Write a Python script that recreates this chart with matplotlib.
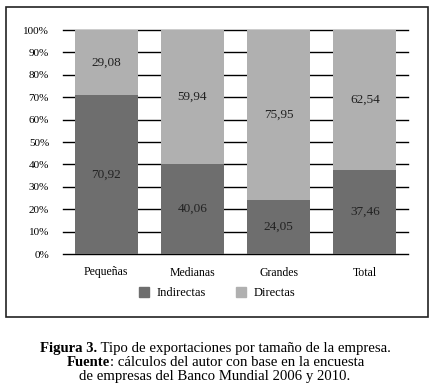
import numpy as np
import matplotlib.pyplot as plt
from matplotlib.patches import Rectangle, Patch

plt.rcParams['font.family'] = ['Liberation Serif', 'DejaVu Serif']

# data
categorias = ['Pequeñas', 'Medianas', 'Grandes', 'Total']
indirectas = [70.92, 40.06, 24.05, 37.46]
directas = [29.08, 59.94, 75.95, 62.54]

c_ind = '#6e6e6e'
c_dir = '#b0b0b0'

W, H = 434, 388
fig = plt.figure(figsize=(W / 100, H / 100), dpi=100)

# outer frame around chart
fig.patches.append(Rectangle((6 / W, 1 - 317 / H), 422 / W, 310 / H,
                             transform=fig.transFigure, fill=False,
                             edgecolor='#222222', linewidth=1.2))

ax = fig.add_axes([63 / W, 1 - 254 / H, 345 / W, 224 / H])
x = np.arange(len(categorias))
ax.bar(x, indirectas, width=0.73, color=c_ind, zorder=2)
ax.bar(x, directas, width=0.73, bottom=indirectas, color=c_dir, zorder=2)

for i in range(len(x)):
    ax.text(x[i], indirectas[i] / 2, f'{indirectas[i]:.2f}'.replace('.', ','),
            ha='center', va='center', fontsize=9.5, color='#222222', zorder=3)
    ax.text(x[i], indirectas[i] + directas[i] / 2,
            f'{directas[i]:.2f}'.replace('.', ','),
            ha='center', va='center', fontsize=9.5, color='#222222', zorder=3)

ax.set_xlim(-0.5, len(x) - 0.5)
ax.set_ylim(0, 100)
ax.set_yticks(np.arange(0, 101, 10))
ax.set_yticklabels([f'{v}%' for v in range(0, 101, 10)])
ax.set_xticks(x)
ax.set_xticklabels(categorias)
ax.tick_params(axis='both', length=0)
ax.tick_params(axis='y', pad=10, labelsize=8)
ax.tick_params(axis='x', pad=9, labelsize=8.5)
ax.yaxis.grid(True, color='black', linewidth=1.0, zorder=0)
ax.set_axisbelow(True)
for gl in ax.get_ygridlines():
    gl.set_clip_on(False)
for s in ax.spines.values():
    s.set_visible(False)

handles = [Patch(color=c_ind, label='Indirectas'), Patch(color=c_dir, label='Directas')]
fig.legend(handles=handles, loc='center', bbox_to_anchor=(217 / W, 1 - 293 / H),
           ncol=2, frameon=False, fontsize=9, handlelength=0.8, handleheight=0.8,
           handletextpad=0.6, columnspacing=2.4)

# caption, each line centred at x=215 px
cx = 215
fs = 10.6
renderer = fig.canvas.get_renderer()


def caption_line(y, parts):
    items = [fig.text(0, 1 - y / H, s, fontsize=fs, fontweight=w, va='baseline')
             for s, w in parts]
    widths = [t.get_window_extent(renderer).width for t in items]
    x0 = cx - sum(widths) / 2
    for t, w in zip(items, widths):
        t.set_x(x0 / W)
        x0 += w


caption_line(352, [('Figura 3.', 'bold'),
                   (' Tipo de exportaciones por tamaño de la empresa.', 'normal')])
caption_line(366, [('Fuente', 'bold'),
                   (': cálculos del autor con base en la encuesta', 'normal')])
caption_line(380, [('de empresas del Banco Mundial 2006 y 2010.', 'normal')])

fig.savefig('out.png', dpi=100)
